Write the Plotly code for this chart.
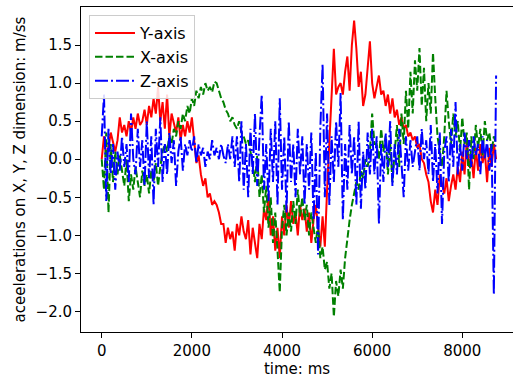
import plotly.graph_objects as go

# time axis (ms), sampled every 50 ms from 0 to 8750
time_ms = list(range(0, 8751, 50))

y_axis_vals = [
    0.0, 0.3, 0.05, 0.15, 0.35, 0.2, 0.1, 0.25, 0.55, 0.35, 0.45, 0.3, 0.5, 0.35, 0.55, 0.4, 0.6, 0.45, 0.5, 0.65,
    0.45, 0.7, 0.55, 0.8, 0.6, 0.95, 0.5, 0.75, 0.4, 0.85, 0.3, 0.6, 0.45, 0.35, 0.55, 0.25, 0.45, 0.3, 0.5, 0.35,
    0.55, 0.2, -0.05, 0.05, -0.2, -0.35, -0.25, -0.5, -0.45, -0.6, -0.55, -0.6, -0.7, -0.85, -0.85, -1.1, -0.9, -1.05, -0.95, -1.2,
    -0.85, -1.0, -0.75, -0.95, -1.05, -0.8, -1.25, -0.9, -1.1, -1.3, -0.85, -1.05, -0.65, -0.8, -0.45, -1.0, -0.75, -1.2, -0.9, -1.3,
    -0.75, -1.0, -0.6, -0.9, -0.55, -0.85, -0.7, -1.0, -0.6, -0.8, -0.65, -0.95, -0.7, -1.1, -0.8, -0.6, -0.9, -1.15, -0.75, -1.15,
    -0.4, 0.2, 0.9, 1.45, 0.85, 0.95, 1.0, 0.85, 1.15, 1.35, 0.9, 1.5, 1.82, 1.45, 0.95, 1.15, 0.7, 0.85, 1.2, 1.55,
    1.0, 0.8, 0.95, 1.1, 0.85, 0.9, 0.7, 0.85, 0.6, 0.8, 0.55, 0.65, 0.45, 0.55, 0.4, 0.45, 0.3, 0.35, 0.25, 0.3,
    0.15, 0.2, 0.0, -0.05, -0.2, -0.3, -0.55, -0.7, -0.4, -0.6, -0.2, -0.35, -0.45, -0.25, -0.55, -0.35, -0.2, -0.4, -0.1, -0.3,
    0.1, -0.2, 0.25, -0.1, 0.05, -0.25, 0.15, -0.15, 0.2, -0.05, 0.1, -0.3, 0.15, -0.1, 0.2, 0.0,
]

x_axis_vals = [
    0.0, -0.4, 0.35, -0.7, 0.2, -0.3, 0.1, -0.2, 0.05, -0.15, -0.35, 0.0, -0.55, -0.2, -0.4, -0.1, -0.3, -0.5, -0.15, -0.35,
    -0.2, -0.45, -0.15, -0.3, -0.05, -0.35, -0.1, 0.1, 0.2, 0.1, 0.3, 0.2, 0.4, 0.3, 0.5, 0.4, 0.6, 0.5, 0.7, 0.6,
    0.8, 0.7, 0.9, 0.8, 0.95, 0.85, 1.0, 0.9, 0.95, 0.88, 1.02, 1.0, 0.9, 0.8, 0.75, 0.65, 0.6, 0.5, 0.55, 0.45,
    0.4, 0.5, 0.35, 0.3, 0.2, 0.25, 0.1, -0.05, -0.3, 0.05, -0.5, -0.2, -0.7, -0.35, -0.9, -0.5, -1.1, -0.7, -1.2, -1.75,
    -0.9, -0.6, -1.0, -0.7, -0.95, -0.55, -0.85, -0.4, -0.75, -0.5, -0.8, -0.6, -1.0, -0.7, -0.9, -1.1, -0.85, -1.3, -1.15, -1.45,
    -1.35, -1.7, -1.5, -2.07, -1.6, -1.8, -1.45, -1.7, -1.3, -1.0, -0.8, -0.6, -0.45, -0.3, -0.4, -0.15, -0.25, 0.0, -0.1, 0.1,
    0.6, 0.2, 0.2, 0.0, 0.4, 0.1, 0.3, -0.2, 0.2, -0.3, 0.1, 0.45, -0.1, 0.6, 0.2, 0.9, 0.4, 1.15, 0.6, 1.3,
    0.9, 1.46, 0.7, 1.2, 0.5, 1.0, 0.6, 1.4, 0.8, 0.3, 0.1, -0.1, 0.3, 0.9, 0.5, 0.2, 0.6, 0.3, 0.5, 0.1,
    0.55, 0.2, 0.35, -0.4, 0.3, 0.0, 0.45, 0.15, 0.4, 0.05, 0.5, 0.25, 0.35, 0.1, 0.3, 0.2,
]

z_axis_vals = [
    0.3, 0.85, -0.55, 0.4, -0.2, 0.2, -0.4, 0.1, -0.15, 0.3, -0.1, 0.2, -0.3, 0.6, 0.0, -0.2, 0.4, -0.1, 0.25, -0.35,
    0.5, -0.25, 0.3, -0.6, 0.4, -0.1, 0.55, -0.3, 0.2, -0.2, 0.35, -0.05, 0.25, -0.35, 0.1, 0.3, -0.15, 0.2, 0.05, 0.25,
    0.1, 0.3, -0.05, 0.2, 0.05, 0.15, -0.1, 0.1, 0.0, 0.25, 0.05, 0.15, 0.0, 0.2, 0.05, -0.05, 0.2, 0.0, 0.3, -0.1,
    0.3, -0.3, 0.5, -0.4, 0.2, -0.5, 0.4, -0.2, 0.6, -0.35, 0.3, 0.85, -0.4, 0.2, -0.55, 0.4, -0.3, 0.5, -0.6, 0.8,
    -0.4, 0.3, -0.7, 0.5, -0.3, 0.2, -0.5, 0.4, -0.2, 0.3, -0.6, 0.2, -0.4, 0.35, -0.8, 0.1, -1.25, 0.4, 1.25, -0.5,
    0.6, -0.6, 0.3, -0.3, 0.5, -0.1, 0.87, -0.8, 0.2, -0.4, 0.45, -0.2, 0.3, -0.6, 0.5, -0.65, 0.1, -0.4, 0.35, -0.2,
    0.4, -0.2, 0.3, -0.85, 0.2, -0.3, 0.35, -0.1, 0.5, -0.35, 0.2, -0.2, 0.4, 0.0, -0.5, 0.3, -0.15, 0.25, -0.1, 0.1,
    0.3, -0.15, 0.4, 0.0, 0.25, -0.2, 0.45, -0.3, 0.2, -0.45, 0.35, -0.85, 0.1, 0.3, -0.3, 0.4, -0.1, 0.75, -0.2, 0.2,
    -0.15, 0.35, 0.0, 0.25, -0.1, 0.3, 0.05, 0.2, -0.2, 0.3, 0.0, 0.25, -0.15, 0.2, -1.78, 1.1,
]

series_names = ["Y-axis", "X-axis", "Z-axis"]
series_colors = ["#ff0000", "#008000", "#0000ff"]
series_dash = ["solid", "7.5px,3px", "13px,3px,2px,3px"]
series_values = [y_axis_vals, x_axis_vals, z_axis_vals]

y_tick_vals = [-2.0, -1.5, -1.0, -0.5, 0.0, 0.5, 1.0, 1.5]
x_tick_vals = [0, 2000, 4000, 6000, 8000]

FONT = "DejaVu Sans"

fig = go.Figure()
for name, col, dash, vals in zip(series_names, series_colors, series_dash, series_values):
    fig.add_trace(go.Scatter(
        x=time_ms, y=vals, mode="lines", name=name,
        line=dict(color=col, width=2, dash=dash),
    ))

fig.update_layout(
    width=513, height=381,
    margin=dict(l=81, r=0, t=7, b=49),
    paper_bgcolor="white", plot_bgcolor="white",
    font=dict(family=FONT, size=15, color="black"),
    showlegend=True,
    legend=dict(
        x=0.0185, y=0.975, xanchor="left", yanchor="top",
        bgcolor="rgba(255,255,255,0.85)", bordercolor="#cccccc", borderwidth=1,
        font=dict(family=FONT, size=16, color="black"),
        itemwidth=40, tracegroupgap=0,
    ),
    xaxis=dict(
        range=[-460, 9125], tickvals=x_tick_vals,
        showgrid=False, zeroline=False,
        showline=True, linecolor="black", linewidth=1, mirror=True,
        ticks="outside", ticklen=5, tickcolor="black", tickwidth=1,
        tickfont=dict(family=FONT, size=15),
        title=dict(text="time: ms", font=dict(family=FONT, size=15), standoff=4),
    ),
    yaxis=dict(
        range=[-2.27, 2.0], tickvals=y_tick_vals, tickformat=".1f",
        showgrid=False, zeroline=False,
        showline=True, linecolor="black", linewidth=1, mirror=False,
        ticks="outside", ticklen=5, tickcolor="black", tickwidth=1,
        tickfont=dict(family=FONT, size=15),
        title=dict(text="aceelerations on X, Y, Z dimension: m/ss", font=dict(family=FONT, size=15), standoff=6),
    ),
)

fig.write_html("out.html")
